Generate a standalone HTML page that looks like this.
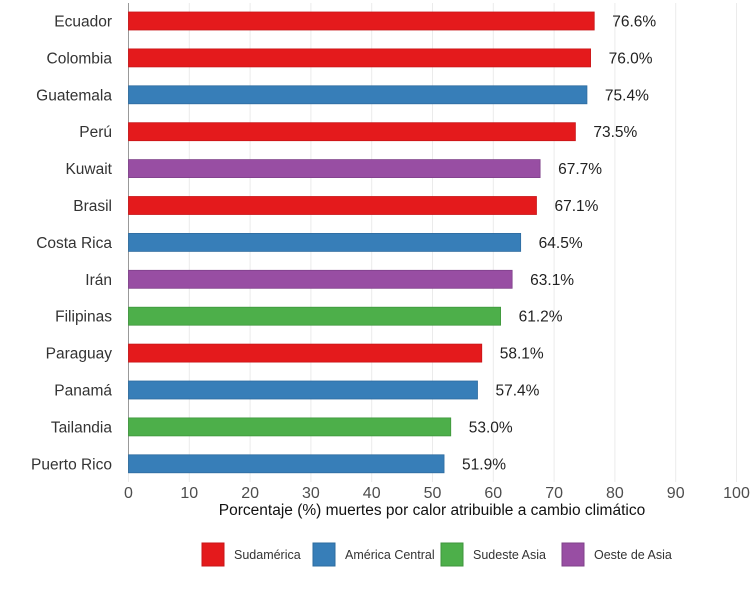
<!DOCTYPE html>
<html><head><meta charset="utf-8"><style>
body{margin:0;background:#fff;font-family:"Liberation Sans",sans-serif;}
svg text{font-family:"Liberation Sans",sans-serif;}
</style></head><body>
<svg id="chart" width="754" height="584" viewBox="0 0 754 584"></svg>
<script>
const countries=["Ecuador","Colombia","Guatemala","Perú","Kuwait","Brasil","Costa Rica","Irán","Filipinas","Paraguay","Panamá","Tailandia","Puerto Rico"];
const values=[76.6,76.0,75.4,73.5,67.7,67.1,64.5,63.1,61.2,58.1,57.4,53.0,51.9];
const regions=["Sudamérica","Sudamérica","América Central","Sudamérica","Oeste de Asia","Sudamérica","América Central","Oeste de Asia","Sudeste Asia","Sudamérica","América Central","Sudeste Asia","América Central"];
const legendNames=["Sudamérica","América Central","Sudeste Asia","Oeste de Asia"];
const ticks=[0,10,20,30,40,50,60,70,80,90,100];
const colors={"Sudamérica":"#e41a1c","América Central":"#377eb8","Sudeste Asia":"#4daf4a","Oeste de Asia":"#984ea3"};
const borders={"Sudamérica":"#c81518","América Central":"#2e6c9f","Sudeste Asia":"#3f963c","Oeste de Asia":"#7f418a"};
const NS="http://www.w3.org/2000/svg";
const svg=document.getElementById('chart');
const x=v=>128.5+v*6.08;
const y=i=>21+i*36.9;
function mk(tag,attrs,parent){const e=document.createElementNS(NS,tag);for(const k in attrs)e.setAttribute(k,attrs[k]);(parent||svg).appendChild(e);return e;}
ticks.forEach(t=>{
  const g=mk('line',{x1:x(t),x2:x(t),y1:3,y2:482,stroke:'#ebebeb','stroke-width':1});
  
  
  const tl=mk('text',{x:x(t),y:498,'text-anchor':'middle','font-size':16,fill:'#4d4d4d'});
  tl.textContent=t;
  
  
});
const ax=mk('line',{x1:x(0),x2:x(0),y1:3,y2:473,stroke:'#999','stroke-width':1});


countries.forEach((c,i)=>{
  const r=mk('rect',{x:x(0),y:y(i)-9,width:x(values[i])-x(0),height:18,fill:colors[regions[i]],stroke:borders[regions[i]],'stroke-width':0.8});
  
  
  const l=mk('text',{x:112,y:y(i)+5.5,'text-anchor':'end','font-size':15.5,fill:'#333'});
  l.textContent=c;
  
  
  const v=mk('text',{x:x(values[i])+18,y:y(i)+5.5,'font-size':15.5,fill:'#222'});
  v.textContent=values[i].toFixed(1)+'%';
  
  
});
const at=mk('text',{x:432,y:515,'text-anchor':'middle','font-size':15.5,fill:'#111'});
at.textContent='Porcentaje (%) muertes por calor atribuible a cambio climático';


const lx=[202,313,441,562];
legendNames.forEach((n,i)=>{
  const k=mk('rect',{x:lx[i],y:543,width:22,height:23,fill:colors[n],stroke:borders[n],'stroke-width':1});
  
  
  const t=mk('text',{x:lx[i]+32,y:559,'font-size':12.5,fill:'#333'});
  t.textContent=n;
  
  
});
</script>
</body></html>
